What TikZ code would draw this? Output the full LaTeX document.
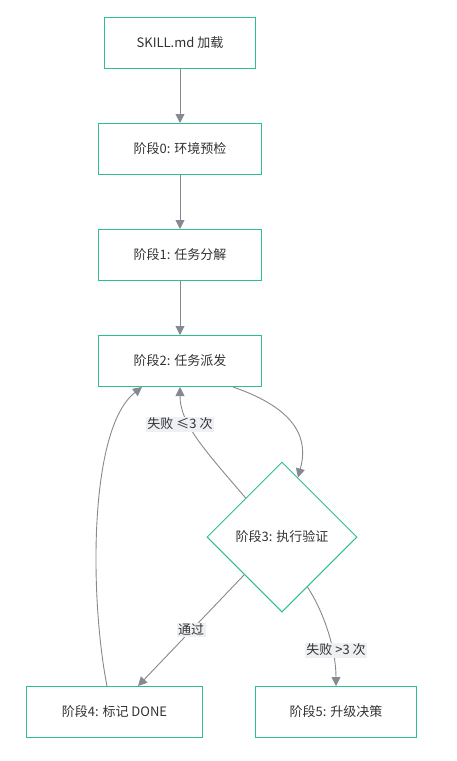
\documentclass[tikz,border=0pt]{standalone}
\usepackage{fontspec}
\setmainfont{Noto Sans CJK SC}
\usepackage{xcolor}
\usepackage{tikz}
\usetikzlibrary{arrows.meta,shapes.geometric,calc}

\definecolor{boxgreen}{RGB}{46,192,140}
\definecolor{edgegray}{RGB}{134,137,146}
\definecolor{lblgray}{RGB}{238,240,244}
\definecolor{txtgray}{RGB}{51,51,51}

\tikzset{
  stagebox/.style={draw=boxgreen,line width=1pt,fill=white,minimum width=163pt,minimum height=51pt,
    inner sep=0pt,text=txtgray,font=\fontsize{13}{15}\selectfont},
  checkbox/.style={diamond,draw=boxgreen,line width=1pt,fill=white,minimum width=150pt,minimum height=150pt,
    inner sep=0pt,text=txtgray,font=\fontsize{13}{15}\selectfont},
  flow/.style={draw=edgegray,line width=0.9pt,-{Triangle[length=9pt,width=9pt]}},
  lbl/.style={fill=lblgray,text=txtgray,inner sep=1.5pt,font=\fontsize{13}{15}\selectfont}
}

\begin{document}
\begin{tikzpicture}[x=1pt,y=-1pt]
\useasboundingbox[fill=white] (0,0) rectangle (456,761);
% stages
\node[stagebox,minimum width=151pt] (load) at (180,43) {SKILL.md 加载};
\node[stagebox] (s0) at (180,149) {阶段0: 环境预检};
\node[stagebox] (s1) at (180,255) {阶段1: 任务分解};
\node[stagebox] (s2) at (180,361) {阶段2: 任务派发};
\node[checkbox] (s3) at (282,537) {阶段3: 执行验证};
\node[stagebox,minimum width=176pt] (s4) at (114.5,712) {阶段4: 标记 DONE};
\node[stagebox,minimum width=161pt] (s5) at (336,712) {阶段5: 升级决策};
% straight chain
\draw[flow] (load) -- (s0);
\draw[flow] (s0) -- (s1);
\draw[flow] (s1) -- (s2);
% dispatch -> verify
\draw[flow] ([xshift=53pt]s2.south) .. controls +(67,23) and +(10,-36) .. (s3.75);
% retry loop
\draw[flow] (s3.133) .. controls +(-40,-47) and +(0,37) .. (s2.south);
%\draw[flow] (s3.133) -- (s2.south);
% pass / escalate
\draw[flow] (s3.-135) -- ([xshift=23.5pt]s4.north);
\draw[flow] (s3.-63) .. controls +(18,28) and +(0,-35) .. (s5.north);
% done -> next task
\draw[flow] ([xshift=-7.5pt]s4.north) .. controls +(-17,-86) and +(-54,42) .. ([xshift=-38pt]s2.south);
% edge labels
\node[lbl] (retry) at (180,424) {失败 ≤3 次};
\node[lbl] (pass) at (191,630) {通过};
\node[lbl] (fail) at (336,650) {失败 >3 次};
\end{tikzpicture}
\end{document}
